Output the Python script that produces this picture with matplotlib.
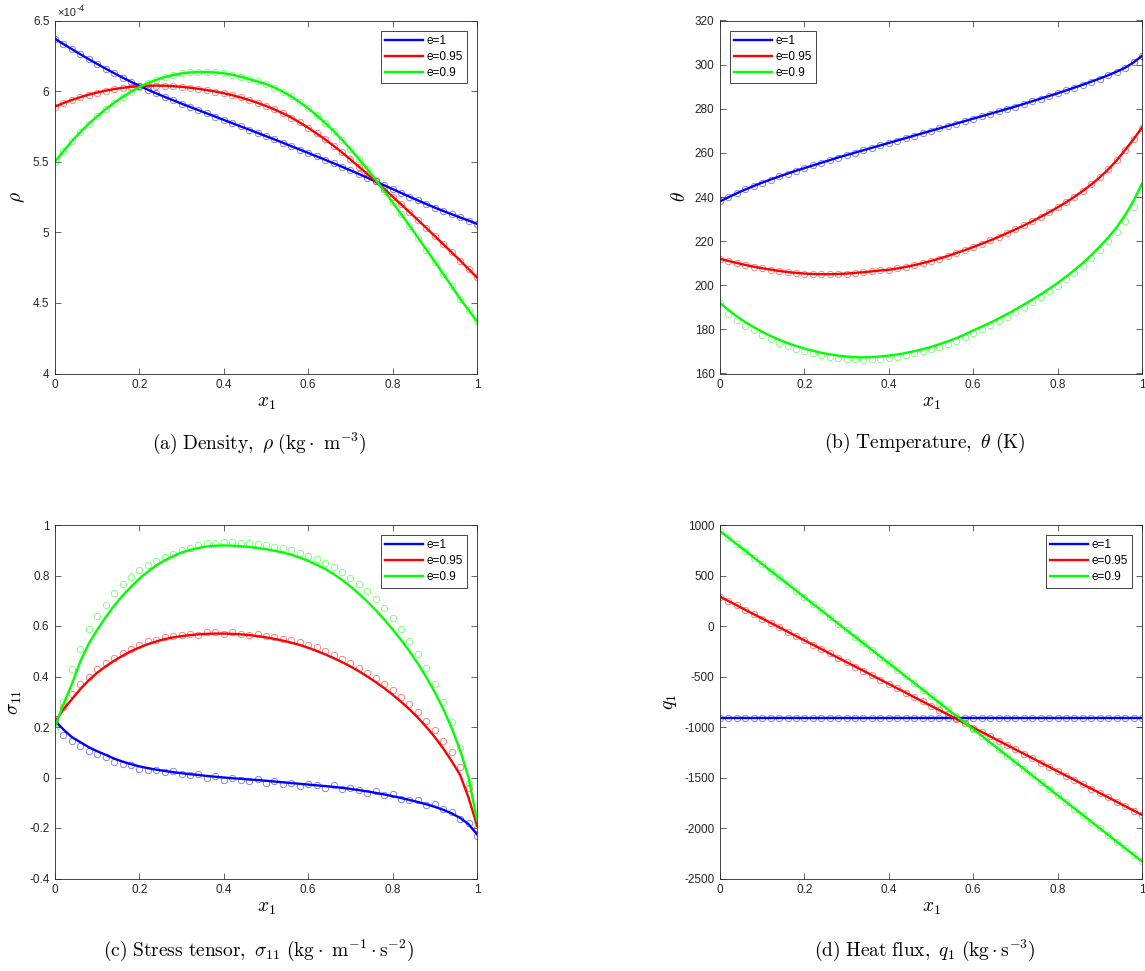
import matplotlib
matplotlib.use('Agg')
import matplotlib.pyplot as plt
from matplotlib.ticker import FuncFormatter

plt.rcParams['font.family'] = ['Liberation Sans', 'DejaVu Sans']
plt.rcParams['mathtext.fontset'] = 'cm'

# x grid shared by every series (step 0.02)
x1 = [0.00, 0.02, 0.04, 0.06, 0.08, 0.10, 0.12, 0.14, 0.16, 0.18,
      0.20, 0.22, 0.24, 0.26, 0.28, 0.30, 0.32, 0.34, 0.36, 0.38,
      0.40, 0.42, 0.44, 0.46, 0.48, 0.50, 0.52, 0.54, 0.56, 0.58,
      0.60, 0.62, 0.64, 0.66, 0.68, 0.70, 0.72, 0.74, 0.76, 0.78,
      0.80, 0.82, 0.84, 0.86, 0.88, 0.90, 0.92, 0.94, 0.96, 0.98, 1.00]

labels = ['e=1', 'e=0.95', 'e=0.9']

# (a) density, in units of 1e-4
rho_e1 = [6.370, 6.333, 6.297, 6.261, 6.226, 6.192, 6.159, 6.127, 6.096, 6.066,
          6.037, 6.010, 5.984, 5.959, 5.935, 5.911, 5.888, 5.865, 5.842, 5.819,
          5.796, 5.773, 5.750, 5.727, 5.704, 5.681, 5.658, 5.634, 5.610, 5.586,
          5.562, 5.538, 5.514, 5.489, 5.464, 5.439, 5.413, 5.387, 5.360, 5.333,
          5.306, 5.279, 5.252, 5.226, 5.200, 5.175, 5.151, 5.128, 5.105, 5.083, 5.060]
rho_e095 = [5.890, 5.915, 5.937, 5.957, 5.975, 5.990, 6.003, 6.014, 6.023, 6.030,
            6.035, 6.038, 6.039, 6.038, 6.035, 6.030, 6.024, 6.016, 6.007, 5.997,
            5.985, 5.971, 5.955, 5.937, 5.917, 5.895, 5.870, 5.843, 5.813, 5.778,
            5.740, 5.700, 5.658, 5.613, 5.566, 5.516, 5.465, 5.413, 5.360, 5.307,
            5.253, 5.198, 5.143, 5.087, 5.030, 4.973, 4.916, 4.858, 4.800, 4.740, 4.680]
rho_e09 = [5.500, 5.575, 5.645, 5.710, 5.768, 5.822, 5.872, 5.917, 5.958, 5.995,
           6.028, 6.056, 6.080, 6.099, 6.114, 6.125, 6.132, 6.135, 6.135, 6.132,
           6.126, 6.116, 6.102, 6.085, 6.068, 6.050, 6.025, 5.996, 5.962, 5.922,
           5.878, 5.828, 5.776, 5.718, 5.656, 5.590, 5.520, 5.448, 5.372, 5.293,
           5.212, 5.130, 5.047, 4.963, 4.878, 4.792, 4.705, 4.618, 4.530, 4.450, 4.370]

# (b) temperature
th_e1 = [238.0, 239.9, 241.7, 243.4, 245.0, 246.5, 247.9, 249.3, 250.6, 251.9,
         253.1, 254.3, 255.5, 256.7, 257.9, 259.0, 260.1, 261.2, 262.3, 263.4,
         264.5, 265.6, 266.7, 267.8, 268.9, 270.0, 271.1, 272.2, 273.3, 274.4,
         275.5, 276.6, 277.7, 278.8, 279.9, 281.0, 282.2, 283.4, 284.6, 285.8,
         287.0, 288.3, 289.6, 290.9, 292.3, 293.7, 295.2, 296.8, 298.6, 301.0, 304.0]
th_e095 = [212.0, 211.0, 210.1, 209.2, 208.4, 207.7, 207.1, 206.5, 206.0, 205.6,
           205.3, 205.1, 205.0, 205.0, 205.1, 205.3, 205.6, 205.9, 206.3, 206.7,
           207.0, 207.6, 208.3, 209.1, 210.0, 211.0, 212.1, 213.3, 214.6, 215.9,
           217.3, 218.8, 220.3, 221.9, 223.6, 225.3, 227.1, 229.0, 231.0, 233.1,
           235.3, 237.6, 240.1, 242.8, 245.7, 248.9, 252.5, 256.6, 261.3, 266.2, 271.5]
th_e09 = [192.0, 188.8, 185.9, 183.3, 181.0, 178.9, 177.0, 175.3, 173.8, 172.5,
          171.3, 170.3, 169.4, 168.7, 168.1, 167.7, 167.4, 167.3, 167.4, 167.7,
          168.1, 168.6, 169.3, 170.1, 171.0, 172.0, 173.3, 174.6, 176.0, 177.7,
          179.5, 181.2, 183.0, 184.9, 186.9, 189.0, 191.2, 193.5, 195.9, 198.4,
          201.0, 203.9, 206.9, 210.1, 213.7, 217.5, 221.7, 226.3, 231.8, 238.3, 246.0]
th_e09_pts = [192.0, 187.0, 184.2, 181.7, 179.5, 177.4, 175.6, 174.0, 172.5, 171.3,
              170.2, 169.2, 168.4, 167.7, 167.1, 166.7, 166.4, 166.3, 166.4, 166.7,
              167.1, 167.6, 168.3, 169.1, 170.0, 171.0, 172.2, 173.5, 174.9, 176.5,
              178.3, 180.0, 181.8, 183.7, 185.7, 187.8, 190.0, 192.3, 194.7, 197.2,
              199.8, 202.7, 205.7, 208.9, 212.5, 216.2, 220.2, 224.3, 229.3, 235.3, 244.5]

# (c) stress tensor: solid lines and symbols
sig_e1 = [0.225, 0.190, 0.160, 0.140, 0.120, 0.104, 0.090, 0.075, 0.063, 0.053,
          0.044, 0.037, 0.031, 0.026, 0.021, 0.017, 0.013, 0.010, 0.006, 0.003,
          0.000, -0.003, -0.005, -0.008, -0.010, -0.013, -0.016, -0.019, -0.022, -0.025,
          -0.028, -0.031, -0.034, -0.037, -0.041, -0.045, -0.050, -0.055, -0.061, -0.067,
          -0.074, -0.081, -0.089, -0.097, -0.106, -0.116, -0.128, -0.142, -0.160, -0.185, -0.225]
sig_e1_pts = [0.230, 0.170, 0.145, 0.125, 0.105, 0.095, 0.080, 0.060, 0.055, 0.050,
              0.035, 0.030, 0.030, 0.020, 0.025, 0.015, 0.010, 0.015, 0.000, 0.005,
              -0.010, 0.000, -0.010, -0.015, -0.005, -0.020, -0.015, -0.025, -0.020, -0.035,
              -0.025, -0.030, -0.040, -0.030, -0.045, -0.040, -0.050, -0.060, -0.055, -0.070,
              -0.065, -0.085, -0.090, -0.090, -0.110, -0.105, -0.125, -0.135, -0.165, -0.180, -0.230]
sig_e095 = [0.220, 0.270, 0.310, 0.350, 0.385, 0.415, 0.440, 0.462, 0.482, 0.500,
            0.515, 0.528, 0.539, 0.548, 0.555, 0.560, 0.564, 0.567, 0.569, 0.570,
            0.570, 0.569, 0.567, 0.564, 0.560, 0.555, 0.549, 0.542, 0.534, 0.525,
            0.514, 0.501, 0.488, 0.473, 0.457, 0.440, 0.421, 0.400, 0.378, 0.354,
            0.328, 0.300, 0.270, 0.237, 0.200, 0.160, 0.115, 0.065, 0.010, -0.080, -0.190]
sig_e095_pts = [0.210, 0.280, 0.330, 0.370, 0.400, 0.430, 0.455, 0.475, 0.495, 0.510,
                0.525, 0.540, 0.545, 0.555, 0.560, 0.565, 0.570, 0.565, 0.575, 0.575,
                0.570, 0.575, 0.570, 0.565, 0.570, 0.560, 0.555, 0.550, 0.545, 0.535,
                0.525, 0.515, 0.500, 0.485, 0.470, 0.455, 0.435, 0.415, 0.395, 0.370,
                0.345, 0.320, 0.290, 0.260, 0.225, 0.190, 0.145, 0.100, 0.040, -0.040, -0.200]
sig_e09 = [0.200, 0.290, 0.370, 0.460, 0.530, 0.585, 0.635, 0.680, 0.720, 0.755,
           0.788, 0.815, 0.840, 0.860, 0.877, 0.891, 0.901, 0.909, 0.915, 0.918,
           0.919, 0.918, 0.916, 0.913, 0.909, 0.904, 0.898, 0.891, 0.882, 0.871,
           0.858, 0.843, 0.826, 0.806, 0.783, 0.757, 0.728, 0.697, 0.663, 0.626,
           0.587, 0.545, 0.500, 0.451, 0.397, 0.338, 0.272, 0.196, 0.108, 0.000, -0.170]
sig_e09_pts = [0.190, 0.300, 0.430, 0.510, 0.590, 0.640, 0.685, 0.730, 0.765, 0.795,
               0.822, 0.840, 0.856, 0.872, 0.887, 0.900, 0.910, 0.920, 0.927, 0.930,
               0.932, 0.931, 0.930, 0.928, 0.925, 0.920, 0.914, 0.908, 0.900, 0.890,
               0.878, 0.865, 0.850, 0.834, 0.814, 0.792, 0.767, 0.738, 0.706, 0.670,
               0.630, 0.588, 0.542, 0.490, 0.432, 0.370, 0.300, 0.220, 0.115, -0.020, -0.180]

# (d) heat flux
q_e1 = [-910, -910, -910, -910, -910, -910, -910, -910, -910, -910,
        -910, -910, -910, -910, -910, -910, -910, -910, -910, -910,
        -910, -910, -910, -910, -910, -910, -910, -910, -910, -910,
        -910, -910, -910, -910, -910, -910, -910, -910, -910, -910,
        -910, -910, -910, -910, -910, -910, -910, -910, -910, -910, -910]
q_e095 = [290, 247, 204, 160, 117, 74, 31, -12, -56, -99,
          -142, -185, -228, -272, -315, -358, -401, -444, -488, -531,
          -574, -617, -660, -704, -747, -790, -833, -876, -920, -963,
          -1006, -1049, -1092, -1136, -1179, -1222, -1265, -1308, -1352, -1395,
          -1438, -1481, -1524, -1568, -1611, -1654, -1697, -1740, -1784, -1827, -1870]
q_e09 = [940, 875, 809, 744, 678, 613, 548, 482, 417, 351,
         286, 221, 155, 90, 24, -41, -106, -172, -237, -303,
         -368, -433, -499, -564, -630, -695, -760, -826, -891, -957,
         -1022, -1087, -1153, -1218, -1284, -1349, -1414, -1480, -1545, -1611,
         -1676, -1741, -1807, -1872, -1938, -2003, -2068, -2134, -2199, -2265, -2330]

W, H = 1145, 971
fig = plt.figure(figsize=(W / 100, H / 100), dpi=100)

def px_axes(l, t, r, b):
    return fig.add_axes([l / W, 1 - b / H, (r - l) / W, (b - t) / H])

axa = px_axes(55, 20.5, 477, 373.5)
axb = px_axes(720, 20.5, 1142, 373.5)
axc = px_axes(55, 525, 477, 878.5)
axd = px_axes(720, 525, 1142, 878.5)

fmt = FuncFormatter(lambda v, p: ('%g' % round(v, 6)))
gray = '#262626'

def draw(ax, lines, pts, ylim, yticks, ylabel, leg_loc):
    for (yp, c) in zip(pts, ['b', 'r', (0, 1, 0)]):
        ax.plot(x1, yp, 'o', mfc='none', mec=c, ms=4.6, mew=0.6, alpha=0.55)
    for (yl, c, lab) in zip(lines, ['b', 'r', (0, 1, 0)], labels):
        ax.plot(x1, yl, '-', color=c, lw=1.7, label=lab)
    ax.set_xlim(0, 1)
    ax.set_ylim(*ylim)
    ax.set_xticks([0, 0.2, 0.4, 0.6, 0.8, 1])
    ax.set_yticks(yticks)
    ax.xaxis.set_major_formatter(fmt)
    ax.yaxis.set_major_formatter(fmt)
    ax.tick_params(direction='in', top=True, right=True, length=4, width=0.5,
                   color=gray, labelcolor=gray, labelsize=8.5, pad=4)
    for s in ax.spines.values():
        s.set_linewidth(0.6)
        s.set_color(gray)
    ax.set_xlabel(r'$x_1$', fontsize=14, labelpad=3)
    ax.set_ylabel(ylabel, fontsize=14, labelpad=4)
    leg = ax.legend(loc=leg_loc, fontsize=8.5, handlelength=3.2, handletextpad=0.3,
                    borderpad=0.35, labelspacing=0.35, fancybox=False, framealpha=1,
                    borderaxespad=0.85)
    leg.get_frame().set_edgecolor(gray)
    leg.get_frame().set_linewidth(0.6)

draw(axa, [rho_e1, rho_e095, rho_e09], [rho_e1, rho_e095, rho_e09],
     (4, 6.5), [4, 4.5, 5, 5.5, 6, 6.5], r'$\rho$', 'upper right')
draw(axb, [th_e1, th_e095, th_e09], [th_e1, th_e095, th_e09_pts],
     (160, 320), list(range(160, 321, 20)), r'$\theta$', 'upper left')
draw(axc, [sig_e1, sig_e095, sig_e09], [sig_e1_pts, sig_e095_pts, sig_e09_pts],
     (-0.4, 1), [-0.4, -0.2, 0, 0.2, 0.4, 0.6, 0.8, 1], r'$\sigma_{11}$', 'upper right')
draw(axd, [q_e1, q_e095, q_e09], [q_e1, q_e095, q_e09],
     (-2500, 1000), list(range(-2500, 1001, 500)), r'$q_1$', 'upper right')

# exponent label of the density axis
axa.text(0.005, 1.006, '×10', transform=axa.transAxes, fontsize=8, color=gray,
         ha='left', va='bottom')
axa.text(0.052, 1.022, '-4', transform=axa.transAxes, fontsize=6.5, color=gray,
         ha='left', va='bottom')

cap = dict(fontsize=14, ha='center', va='center')
fig.text(259 / W, 1 - 443 / H, r'$\mathrm{(a)\ Density,}\ \rho\ \mathrm{(kg}\cdot\ \mathrm{m}^{-3}\mathrm{)}$', **cap)
fig.text(925 / W, 1 - 443 / H, r'$\mathrm{(b)\ Temperature,}\ \theta\ \mathrm{(K)}$', **cap)
fig.text(259 / W, 1 - 950 / H, r'$\mathrm{(c)\ Stress\ tensor,}\ \sigma_{11}\ \mathrm{(kg}\cdot\ \mathrm{m}^{-1}\cdot\mathrm{s}^{-2}\mathrm{)}$', **cap)
fig.text(925 / W, 1 - 950 / H, r'$\mathrm{(d)\ Heat\ flux,}\ q_1\ \mathrm{(kg}\cdot\mathrm{s}^{-3}\mathrm{)}$', **cap)

fig.savefig('out.png', dpi=100)
